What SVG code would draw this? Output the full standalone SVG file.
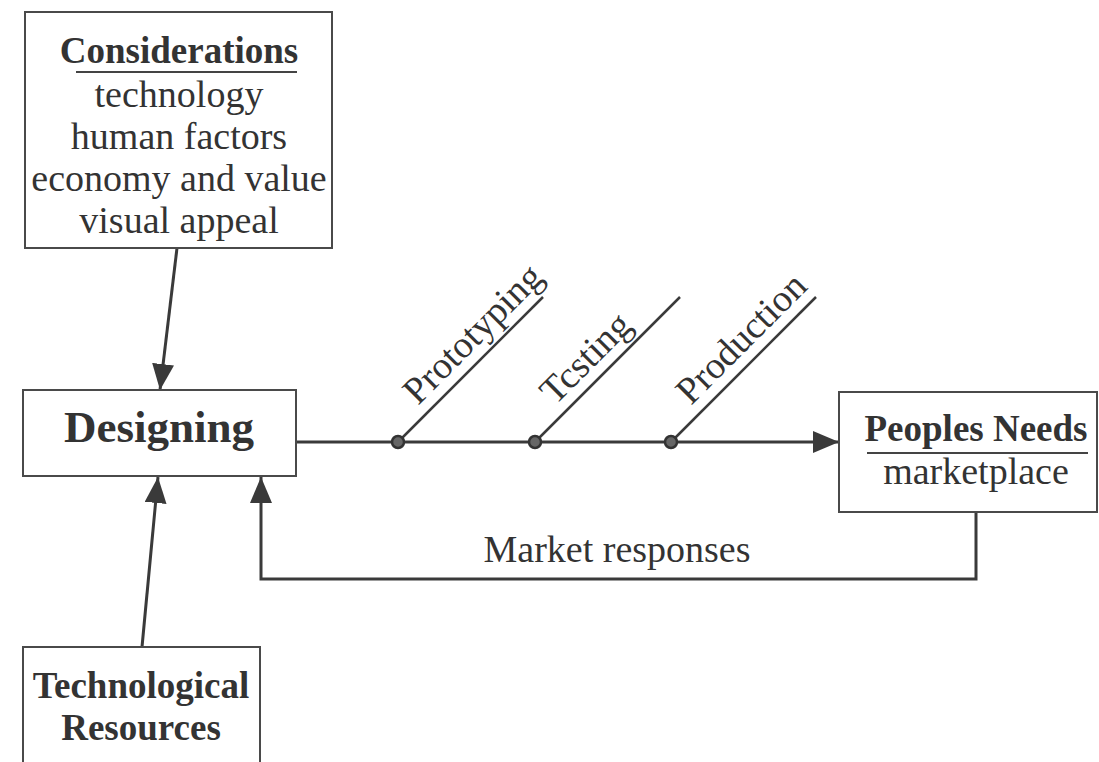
<svg xmlns="http://www.w3.org/2000/svg" width="1099" height="762" viewBox="0 0 1099 762">
  <defs>
    <marker id="arrow" markerUnits="userSpaceOnUse" markerWidth="26" markerHeight="22" refX="26" refY="11" orient="auto">
      <path d="M0,0 L26,11 L0,22 z" fill="#3a3a3a"/>
    </marker>
    <style>
      .box { fill: none; stroke: #4a4a4a; stroke-width: 2; }
      .conn { fill: none; stroke: #3a3a3a; stroke-width: 3; }
      .branch { fill: none; stroke: #3a3a3a; stroke-width: 2.5; }
      .rule { stroke: #444; stroke-width: 2; }
      .dot { fill: #666; stroke: #333; stroke-width: 2.5; }
      text { font-family: "Liberation Serif", "Times New Roman", serif; fill: #333; }
      .reg { font-size: 38px; }
      .bold { font-size: 37px; font-weight: bold; }
      .big { font-size: 45px; font-weight: bold; }
      .mid { text-anchor: middle; }
    </style>
  </defs>

  <rect width="1099" height="762" fill="#ffffff"/>

  <!-- connectors -->
  <g id="connectors">
    <line class="conn" x1="177" y1="248" x2="160" y2="390" marker-end="url(#arrow)"/>
    <line class="conn" x1="142" y1="647" x2="158" y2="477" marker-end="url(#arrow)"/>
    <line class="conn" x1="296" y1="442" x2="839" y2="442" marker-end="url(#arrow)"/>
    <polyline class="conn" points="976,512 976,579 261,579 261,477" marker-end="url(#arrow)"/>
    <line class="branch" x1="398" y1="442" x2="543" y2="297"/>
    <line class="branch" x1="535" y1="442" x2="680" y2="297"/>
    <line class="branch" x1="671" y1="442" x2="816" y2="297"/>
    <circle class="dot" cx="398" cy="442" r="6"/>
    <circle class="dot" cx="535" cy="442" r="6"/>
    <circle class="dot" cx="671" cy="442" r="6"/>
    <text class="reg" transform="translate(418,406) rotate(-45)">Prototyping</text>
    <text class="reg" transform="translate(555,406) rotate(-45)">Tcsting</text>
    <text class="reg" transform="translate(691,406) rotate(-45)">Production</text>
    <text class="reg mid" x="617" y="562">Market responses</text>
  </g>

  <g id="considerations">
    <rect class="box" x="25" y="12" width="307" height="236"/>
    <text class="bold mid" x="179" y="63">Considerations</text>
    <line class="rule" x1="76" y1="72" x2="297" y2="72"/>
    <text class="reg mid" x="179" y="107">technology</text>
    <text class="reg mid" x="179" y="149">human factors</text>
    <text class="reg mid" x="179" y="191">economy and value</text>
    <text class="reg mid" x="179" y="233">visual appeal</text>
  </g>

  <g id="designing">
    <rect class="box" x="23" y="390" width="273" height="86"/>
    <text class="big mid" x="159" y="442">Designing</text>
  </g>

  <g id="peoples-needs">
    <rect class="box" x="839" y="392" width="258" height="120"/>
    <text class="bold mid" x="976" y="441">Peoples Needs</text>
    <line class="rule" x1="867" y1="453" x2="1088" y2="453"/>
    <text class="reg mid" x="976" y="484">marketplace</text>
  </g>

  <g id="tech-resources">
    <rect class="box" x="23" y="647" width="237" height="130"/>
    <text class="bold mid" x="141" y="698">Technological</text>
    <text class="bold mid" x="141" y="740">Resources</text>
  </g>
</svg>
